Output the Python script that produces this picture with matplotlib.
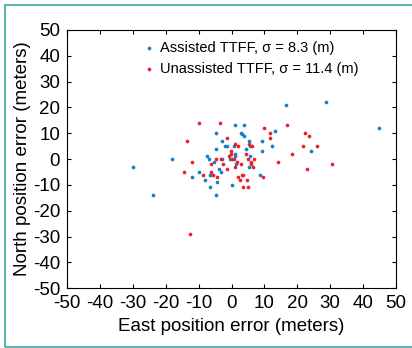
import matplotlib
matplotlib.use('Agg')
import matplotlib.pyplot as plt
from matplotlib.patches import Rectangle

# ── Data (east, north position error in meters) ─────────────
assisted_east = [-30, -24, -18, -12, -10, -8, -7.4, -6.8, -6.5, -6.6, -5.2, -4.7,
                 -4.7, -4.6, -4.3, -3.8, -3.3, -3.0, -2.8, -2.1, -1.5, -0.6, 0,
                 0.6, 1.0, 1.0, 1.2, 1.4, 2.8, 3.2, 3.8, 3.9, 4.5, 5.2, 5.3, 5.7,
                 5.6, 8.7, 9.2, 9.4, 12.2, 13.2, 16.6, 24.2, 28.6, 44.8]
assisted_north = [-3, -14, 0, -7, -5, -8, 1, 0, -11, -6, -1, 4,
                  10, -14, -9, -4, -5, 7, 0, 5, 5, 0, -10,
                  5, 13, 2, 1, -2, 10, 9.7, 13, 9, 4, 7, -3, 1,
                  5, -6, 3, 7, 5, 11, 21, 3, 22, 12]

unassisted_east = [-9.8, -3.6, -13.5, -12, -14.5, -12.7, -8.6, -6.4, -6.2, -5.5,
                   -4.4, -4.6, -3.2, -1.4, -1.5, -2.7, -0.9, -0.1, -0.1, 0.2, 0.8,
                   1.1, 1.1, 1.6, 2.1, 2.0, 2.6, 2.8, 3.1, 3.6, 3.6, 4.3, 4.7, 4.9,
                   5.2, 5.0, 5.8, 5.8, 6.2, 6.7, 6.4, 9.5, 10, 11.7, 11.8, 14.1,
                   16.8, 18.5, 21.7, 22.2, 23.5, 23, 26, 30.7]
unassisted_north = [14, 14, 7, -1, -5, -29, -6, -2, -5, -6,
                    -7, 0, 0, 8, -4, -2, 1, 3, 2, 0, 0,
                    6, -3, -1, 5, -7, -8, -2, -6, -6, -11, 2, -8, -11,
                    6, 0, -1, -2, 5, 0, -3, -7, 12, 10, 8, -1,
                    13, 2, 5, 10, 9, -4, 5, -2]

labels = ["Assisted TTFF, \u03c3 = 8.3 (m)", "Unassisted TTFF, \u03c3 = 11.4 (m)"]
ticks = list(range(-50, 51, 10))

plt.rcParams['font.family'] = ['Liberation Sans', 'DejaVu Sans']
plt.rcParams['axes.unicode_minus'] = False

fig = plt.figure(figsize=(4.12, 3.48), dpi=100)
fig.patch.set_facecolor("white")
ax = fig.add_axes([0.163, 0.172, 0.798, 0.742])

ax.scatter(assisted_east, assisted_north, s=7, color="#1580c6", linewidths=0, label=labels[0])
ax.scatter(unassisted_east, unassisted_north, s=7, color="#e8222c", linewidths=0, label=labels[1])

ax.set_xlim(-50, 50)
ax.set_ylim(-50, 50)
ax.set_xticks(ticks)
ax.set_yticks(ticks)
ax.tick_params(direction='in', top=True, right=True, length=3, width=0.8,
               labelsize=13.5, pad=5)
for spine in ax.spines.values():
    spine.set_linewidth(0.8)

ax.set_xlabel("East position error (meters)", fontsize=13.5, labelpad=4)
ax.set_ylabel("North position error (meters)", fontsize=13.5, labelpad=1)

leg = ax.legend(loc='upper center', bbox_to_anchor=(0.55, 0.99), frameon=False,
                fontsize=10.5, handletextpad=-0.1, handlelength=1.6,
                labelspacing=0.45, borderaxespad=0.2)

# teal frame around the figure
fig.patches.append(Rectangle((5 / 412, 1 / 348), 1.2, 342 / 348,
                             transform=fig.transFigure, fill=False,
                             edgecolor="#3aa89a", linewidth=1.2))

fig.savefig("out.png", dpi=100)
